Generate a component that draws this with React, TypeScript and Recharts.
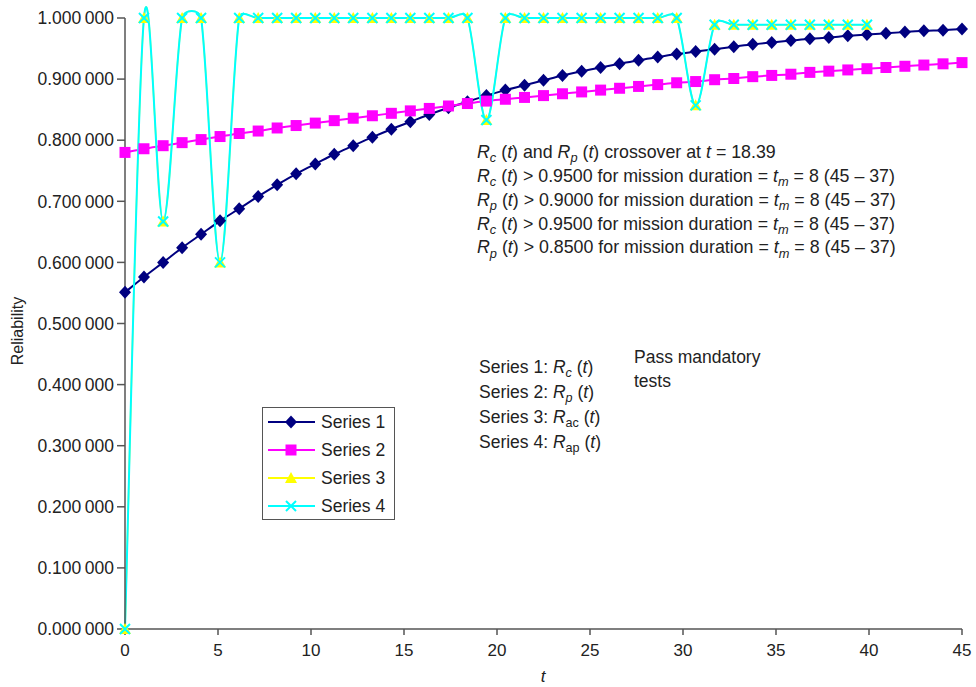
import React from 'react';
import { LineChart, Line, XAxis, YAxis, Legend } from 'recharts';

// x positions of the 45 sample points (t from 0 to 45)
const tValues = [
  0, 1.02, 2.05, 3.07, 4.09, 5.11, 6.14, 7.16, 8.18, 9.2, 10.23, 11.25, 12.27, 13.3, 14.32,
  15.34, 16.36, 17.39, 18.41, 19.43, 20.45, 21.48, 22.5, 23.52, 24.55, 25.57, 26.59, 27.61,
  28.64, 29.66, 30.68, 31.7, 32.73, 33.75, 34.77, 35.8, 36.82, 37.84, 38.86, 39.89, 40.91,
  41.93, 42.95, 43.98, 45,
];

// Series 1: Rc(t)
const series1 = [
  0.551, 0.576, 0.6, 0.624, 0.646, 0.668, 0.688, 0.708, 0.727, 0.745, 0.761, 0.777, 0.791,
  0.805, 0.818, 0.83, 0.842, 0.853, 0.863, 0.873, 0.882, 0.89, 0.898, 0.906, 0.913, 0.919,
  0.925, 0.931, 0.936, 0.941, 0.945, 0.949, 0.953, 0.957, 0.96, 0.963, 0.966, 0.968, 0.971,
  0.973, 0.975, 0.977, 0.979, 0.98, 0.982,
];

// Series 2: Rp(t)
const series2 = [
  0.78, 0.786, 0.791, 0.796, 0.801, 0.806, 0.811, 0.815, 0.82, 0.824, 0.828, 0.832, 0.836,
  0.84, 0.844, 0.848, 0.852, 0.856, 0.86, 0.864, 0.867, 0.87, 0.873, 0.876, 0.879, 0.882,
  0.885, 0.888, 0.891, 0.894, 0.896, 0.899, 0.901, 0.904, 0.906, 0.908, 0.911, 0.913, 0.915,
  0.917, 0.919, 0.921, 0.923, 0.925, 0.927,
];

// Series 3: Rac(t) and Series 4: Rap(t) (same values, first 40 points)
const series3 = [
  0, 1, 0.667, 1, 1, 0.6, 1, 1, 1, 1, 1, 1, 1, 1, 1, 1, 1, 1, 1, 0.833, 1, 1, 1, 1, 1, 1, 1, 1,
  1, 1, 0.857, 0.989, 0.989, 0.989, 0.989, 0.989, 0.989, 0.989, 0.989, 0.989,
];
const series4 = [
  0, 1, 0.667, 1, 1, 0.6, 1, 1, 1, 1, 1, 1, 1, 1, 1, 1, 1, 1, 1, 0.833, 1, 1, 1, 1, 1, 1, 1, 1,
  1, 1, 0.857, 0.989, 0.989, 0.989, 0.989, 0.989, 0.989, 0.989, 0.989, 0.989,
];

const xTicks = [0, 5, 10, 15, 20, 25, 30, 35, 40, 45];
const yTicks = [0, 0.1, 0.2, 0.3, 0.4, 0.5, 0.6, 0.7, 0.8, 0.9, 1];

const legendNames = ['Series 1', 'Series 2', 'Series 3', 'Series 4'];

// threshold notes: [subscript, threshold]
const notes: [string, string][] = [
  ['c', '0.9500'],
  ['p', '0.9000'],
  ['c', '0.9500'],
  ['p', '0.8500'],
];

const data = tValues.map((t, i) => ({
  t,
  s1: series1[i],
  s2: series2[i],
  s3: i < series3.length ? series3[i] : null,
  s4: i < series4.length ? series4[i] : null,
}));

const FONT = '"Liberation Sans", Arial, sans-serif';
const NAVY = '#000080';
const MAGENTA = '#ff00ff';
const YELLOW = '#ffff00';
const CYAN = '#00ffff';

const dist = (a: number[], b: number[]) => Math.hypot(a[0] - b[0], a[1] - b[1]);

// Excel-like smoothed line: Catmull-Rom arms, clamped to half the segment length
function smoothCurve(context: any) {
  let pts: number[][] = [];
  return {
    areaStart() {},
    areaEnd() {},
    lineStart() {
      pts = [];
    },
    point(x: number, y: number) {
      pts.push([+x, +y]);
    },
    lineEnd() {
      if (!pts.length) return;
      context.moveTo(pts[0][0], pts[0][1]);
      for (let i = 0; i < pts.length - 1; i++) {
        const p0 = pts[i - 1] || pts[i];
        const p1 = pts[i];
        const p2 = pts[i + 1];
        const p3 = pts[i + 2] || p2;
        const d12 = dist(p1, p2);
        const d02 = dist(p0, p2);
        const d13 = dist(p1, p3);
        const f0 = d02 / 6 < d12 / 2 ? 1 / 6 : d12 / (2 * d02);
        const f1 = d13 / 6 < d12 / 2 ? 1 / 6 : d12 / (2 * d13);
        context.bezierCurveTo(
          p1[0] + (p2[0] - p0[0]) * f0,
          p1[1] + (p2[1] - p0[1]) * f0,
          p2[0] - (p3[0] - p1[0]) * f1,
          p2[1] - (p3[1] - p1[1]) * f1,
          p2[0],
          p2[1]
        );
      }
    },
  };
}

type Shape = 'diamond' | 'square' | 'triangle' | 'x';

function markerPath(shape: Shape, cx: number, cy: number) {
  if (shape === 'diamond') return `M${cx},${cy - 6.5}L${cx + 6},${cy}L${cx},${cy + 6.5}L${cx - 6},${cy}Z`;
  if (shape === 'square') return `M${cx - 5.5},${cy - 5.5}h11v11h-11Z`;
  if (shape === 'triangle') return `M${cx},${cy - 6}L${cx + 6},${cy + 5}L${cx - 6},${cy + 5}Z`;
  return `M${cx - 5},${cy - 5}L${cx + 5},${cy + 5}M${cx + 5},${cy - 5}L${cx - 5},${cy + 5}`;
}

function Marker({ shape, color, cx, cy }: { shape: Shape; color: string; cx: number; cy: number }) {
  if (shape === 'x') {
    return <path d={markerPath(shape, cx, cy)} stroke={color} strokeWidth={2} fill="none" />;
  }
  return <path d={markerPath(shape, cx, cy)} fill={color} stroke="none" />;
}

const makeDot = (shape: Shape, color: string) => (props: any) => {
  const { cx, cy, index, value } = props;
  if (cx == null || cy == null || value == null) return <g key={`d-${shape}-${index}`} />;
  return (
    <g key={`d-${shape}-${index}`}>
      <Marker shape={shape} color={color} cx={cx} cy={cy} />
    </g>
  );
};

const legendStyle: [string, Shape][] = [
  [NAVY, 'diamond'],
  [MAGENTA, 'square'],
  [YELLOW, 'triangle'],
  [CYAN, 'x'],
];

function LegendBox() {
  return (
    <div
      style={{
        width: 133,
        height: 113,
        border: '1.5px solid #555',
        background: '#fff',
        boxSizing: 'border-box',
        padding: '0 0 0 5px',
        fontFamily: FONT,
        fontSize: 17.5,
        color: '#222',
      }}
    >
      {legendNames.map((name, i) => (
        <div key={name} style={{ display: 'flex', alignItems: 'center', height: 28 }}>
          <svg width={48} height={16} style={{ marginRight: 5 }}>
            <line x1={0} y1={8} x2={47} y2={8} stroke={legendStyle[i][0]} strokeWidth={2} />
            <Marker shape={legendStyle[i][1]} color={legendStyle[i][0]} cx={23} cy={8} />
          </svg>
          <span>{name}</span>
        </div>
      ))}
    </div>
  );
}

const Sub = ({ children, italic = true }: { children: React.ReactNode; italic?: boolean }) => (
  <span style={{ fontSize: '0.72em', fontStyle: italic ? 'italic' : 'normal', position: 'relative', top: '0.35em' }}>
    {children}
  </span>
);

const R = ({ s, italic = true }: { s: string; italic?: boolean }) => (
  <>
    <i>R</i>
    <Sub italic={italic}>{s}</Sub> (<i>t</i>)
  </>
);

const fmtY = (v: number) => {
  const s = v.toFixed(6);
  return s.slice(0, 5) + '\u2009' + s.slice(5);
};

export default function App() {
  const textStyle: React.CSSProperties = {
    position: 'absolute',
    fontFamily: FONT,
    fontSize: 17.5,
    color: '#222',
    whiteSpace: 'nowrap',
    lineHeight: '20px',
  };
  return (
    <div style={{ position: 'absolute', left: 0, top: 0, width: 976, height: 687, background: '#fff' }}>
      <LineChart width={976} height={687} data={data} margin={{ top: 18, right: 14, bottom: 28, left: 0 }}>
        <XAxis
          dataKey="t"
          type="number"
          domain={[0, 45]}
          ticks={xTicks}
          interval={0}
          stroke="#555"
          strokeWidth={1.5}
          tickSize={6}
          tickMargin={9}
          tick={{ fill: '#222', fontSize: 17, fontFamily: FONT }}
        />
        <YAxis
          type="number"
          domain={[0, 1]}
          ticks={yTicks}
          interval={0}
          width={125}
          stroke="#555"
          strokeWidth={1.5}
          tickSize={8}
          tickMargin={3}
          tickFormatter={fmtY}
          tick={{ fill: '#222', fontSize: 17.5, fontFamily: FONT }}
        />
        <Legend
          layout="vertical"
          align="center"
          verticalAlign="middle"
          wrapperStyle={{ position: 'absolute', left: 262, top: 407, width: 133, height: 113 }}
          content={() => <LegendBox />}
        />
        <Line
          dataKey="s1"
          name="Series 1"
          type={smoothCurve as any}
          stroke={NAVY}
          strokeWidth={2}
          dot={makeDot('diamond', NAVY)}
          isAnimationActive={false}
        />
        <Line
          dataKey="s2"
          name="Series 2"
          type={smoothCurve as any}
          stroke={MAGENTA}
          strokeWidth={2}
          dot={makeDot('square', MAGENTA)}
          isAnimationActive={false}
        />
        <Line
          dataKey="s3"
          name="Series 3"
          type={smoothCurve as any}
          stroke={YELLOW}
          strokeWidth={1.5}
          dot={makeDot('triangle', YELLOW)}
          isAnimationActive={false}
        />
        <Line
          dataKey="s4"
          name="Series 4"
          type={smoothCurve as any}
          stroke={CYAN}
          strokeWidth={2}
          dot={makeDot('x', CYAN)}
          isAnimationActive={false}
        />
      </LineChart>

      {/* axis titles */}
      <div
        style={{
          ...textStyle,
          left: 18,
          top: 331,
          transform: 'translate(-50%, -50%) rotate(-90deg)',
          fontSize: 16,
        }}
      >
        Reliability
      </div>
      <div style={{ ...textStyle, left: 543, top: 667, transform: 'translateX(-50%)', fontStyle: 'italic', fontSize: 17 }}>
        t
      </div>

      {/* annotations */}
      <div style={{ ...textStyle, left: 477, top: 142, fontSize: 17.8 }}>
        <R s="c" /> and <R s="p" /> crossover at <i>t</i> = 18.39
      </div>
      {notes.map(([s, thr], i) => (
        <div key={i} style={{ ...textStyle, left: 477, top: 166 + i * 23.8, fontSize: 17.8 }}>
          <R s={s} /> &gt; {thr} for mission duration = <i>t</i>
          <Sub>m</Sub> = 8 (45 – 37)
        </div>
      ))}

      <div style={{ ...textStyle, left: 479, top: 357 }}>
        Series 1: <R s="c" />
      </div>
      <div style={{ ...textStyle, left: 479, top: 382 }}>
        Series 2: <R s="p" />
      </div>
      <div style={{ ...textStyle, left: 479, top: 407 }}>
        Series 3: <R s="ac" italic={false} />
      </div>
      <div style={{ ...textStyle, left: 479, top: 432 }}>
        Series 4: <R s="ap" italic={false} />
      </div>
      <div style={{ ...textStyle, left: 634, top: 347 }}>Pass mandatory</div>
      <div style={{ ...textStyle, left: 634, top: 371 }}>tests</div>
    </div>
  );
}
